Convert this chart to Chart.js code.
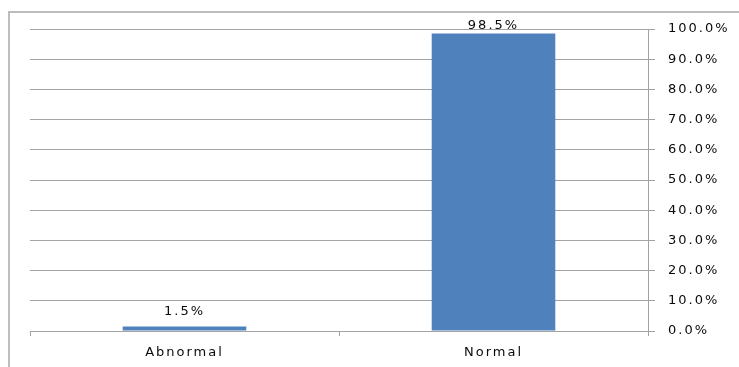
<!DOCTYPE html>
<html>
<head>
<meta charset="utf-8">
<title>Abnormal / Normal</title>
<script src="https://cdn.jsdelivr.net/npm/chart.js@4"></script>
<style>
    html, body { margin: 0; padding: 0; background: #fff; overflow: hidden; }
    #wrap { position: relative; width: 739px; height: 367px; }
    #frame {
        position: absolute; left: 8px; top: 11px; right: -4px; bottom: -4px;
        border-left: 2px solid #bdbdbd; border-top: 2px solid #bdbdbd;
        pointer-events: none;
    }
    canvas { position: absolute; left: 0; top: 0; }
</style>
</head>
<body>
<div id="wrap">
    <canvas id="shareChart" width="739" height="367"></canvas>
    <div id="frame"></div>
</div>
<script>
// Datos del gráfico
const categories = ['Abnormal', 'Normal'];
const shares = [1.5, 98.5];
const yMin = 0;
const yMax = 100;
const yStep = 10;

const textColor = '#0a0a0a';
const gridColor = '#a3a3a3';
const barColor = '#4f81bd';
const spacing = '2px';

function pct(v) {
    return Number(v).toFixed(1) + '%';
}

// Espaciado de letras en el canvas (se pierde cuando el canvas cambia de tamaño)
const letterSpacing = {
    id: 'letterSpacing',
    beforeLayout(chart) { chart.ctx.letterSpacing = spacing; },
    beforeDraw(chart) { chart.ctx.letterSpacing = spacing; }
};

// Etiquetas de valor encima de cada barra
const valueLabels = {
    id: 'valueLabels',
    afterDatasetsDraw(chart) {
        const ctx = chart.ctx;
        const area = chart.chartArea;
        const meta = chart.getDatasetMeta(0);
        ctx.save();
        ctx.letterSpacing = spacing;
        ctx.font = '13px "DejaVu Sans"';
        ctx.fillStyle = textColor;
        ctx.textAlign = 'center';
        ctx.textBaseline = 'alphabetic';
        meta.data.forEach((bar, i) => {
            const y = Math.max(bar.y - 11, area.top);
            ctx.fillText(pct(shares[i]), bar.x, y);
        });
        ctx.restore();
    }
};

function createShareChart() {
    const ctx = document.getElementById('shareChart').getContext('2d');
    const shareChart = new Chart(ctx, {
        type: 'bar',
        data: {
            labels: categories,
            datasets: [{
                data: shares,
                backgroundColor: barColor,
                borderWidth: 0,
                categoryPercentage: 1,
                barPercentage: 0.4
            }]
        },
        options: {
            responsive: false,
            animation: false,
            devicePixelRatio: 1,
            layout: { padding: { left: 30, top: 29, right: 0, bottom: 0 } },
            plugins: {
                legend: { display: false },
                tooltip: { enabled: false }
            },
            scales: {
                x: {
                    position: 'bottom',
                    offset: true,
                    grid: {
                        offset: true,
                        drawOnChartArea: false,
                        drawTicks: true,
                        tickLength: 5,
                        color: gridColor
                    },
                    border: { color: gridColor, width: 1 },
                    ticks: {
                        color: textColor,
                        font: { family: 'DejaVu Sans', size: 13 },
                        padding: 9,
                        maxRotation: 0
                    },
                    afterFit(scale) { scale.height = 36; }
                },
                y: {
                    position: 'right',
                    min: yMin,
                    max: yMax,
                    grid: {
                        color: gridColor,
                        drawTicks: true,
                        tickLength: 7
                    },
                    border: { color: gridColor, width: 1 },
                    ticks: {
                        stepSize: yStep,
                        color: textColor,
                        font: { family: 'DejaVu Sans', size: 13 },
                        padding: 13,
                        callback: value => pct(value)
                    },
                    afterFit(scale) { scale.width = 91; }
                }
            }
        },
        plugins: [letterSpacing, valueLabels]
    });
}

window.onload = createShareChart;
</script>
</body>
</html>
